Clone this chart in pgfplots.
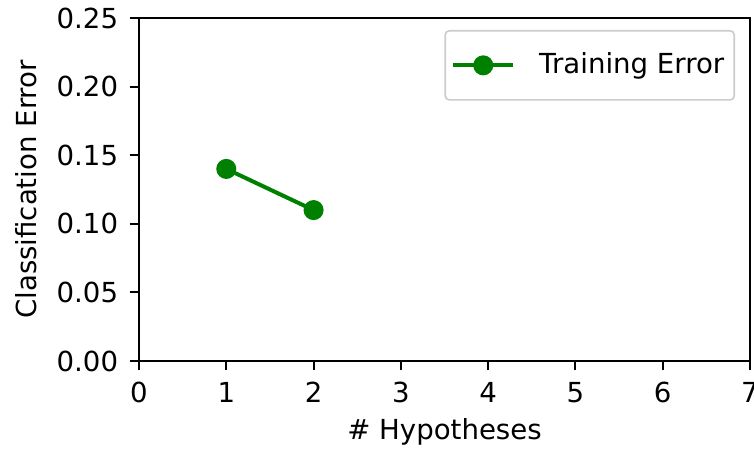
\documentclass[border=0pt]{standalone}
\usepackage{pgfplots}
\pgfplotsset{compat=1.18}
\usepackage{fontspec}
\setmainfont{DejaVu Sans}
\usetikzlibrary{calc}
\definecolor{mgreen}{rgb}{0,0.5,0}
\begin{document}
\fontsize{13.8}{16}\selectfont
\begin{tikzpicture}
\begin{axis}[
  name=ax,
  scale only axis,
  width=305.5pt, height=171.5pt,
  xmin=0, xmax=7, ymin=0, ymax=0.25,
  xtick={0,1,2,3,4,5,6,7},
  ytick={0,0.05,0.10,0.15,0.20,0.25},
  yticklabel style={/pgf/number format/fixed, /pgf/number format/fixed zerofill, /pgf/number format/precision=2, xshift=-1pt},
  /pgf/number format/assume math mode=true,
  tick align=outside,
  tick pos=left,
  major tick length=4.65pt,
  axis line style={line width=1.06pt},
  every tick/.style={line width=1.06pt, black},
  xticklabel style={yshift=-1pt},
  tick label style={font=\fontsize{13.8}{16}\selectfont},
  label style={font=\fontsize{13.8}{16}\selectfont},
  xlabel={\# Hypotheses},
  ylabel={Classification Error},
  xlabel style={at={(axis description cs:0.5,0)}, anchor=center, yshift=-35.5pt},
  ylabel style={at={(axis description cs:0,0.5)}, anchor=center, yshift=56.5pt},
  legend style={at={(axis description cs:1,1)}, anchor=north east, xshift=-7.5pt, yshift=-6pt,
    draw=black!20, rounded corners=2pt, line width=0.8pt, inner xsep=3pt, inner ysep=9pt,
    font=\fontsize{13.8}{16}\selectfont, cells={anchor=west}},
  legend image code/.code={\draw[mark repeat=2,mark phase=2,#1] plot coordinates {(0pt,0pt) (15pt,0pt) (30pt,0pt)}; \path (40pt,0pt);},
  legend cell align=left,
]
\addplot[color=mgreen, line width=2pt, mark=*, mark size=4pt, mark options={solid, fill=mgreen, draw=mgreen}]
  coordinates {(1,0.14) (2,0.11)};
\addlegendentry{Training Error}
\end{axis}
\pgfresetboundingbox
\path ($(ax.south west)+(-69.5pt,-43.5pt)$) rectangle ($(ax.north east)+(2pt,9pt)$);
\end{tikzpicture}
\end{document}
